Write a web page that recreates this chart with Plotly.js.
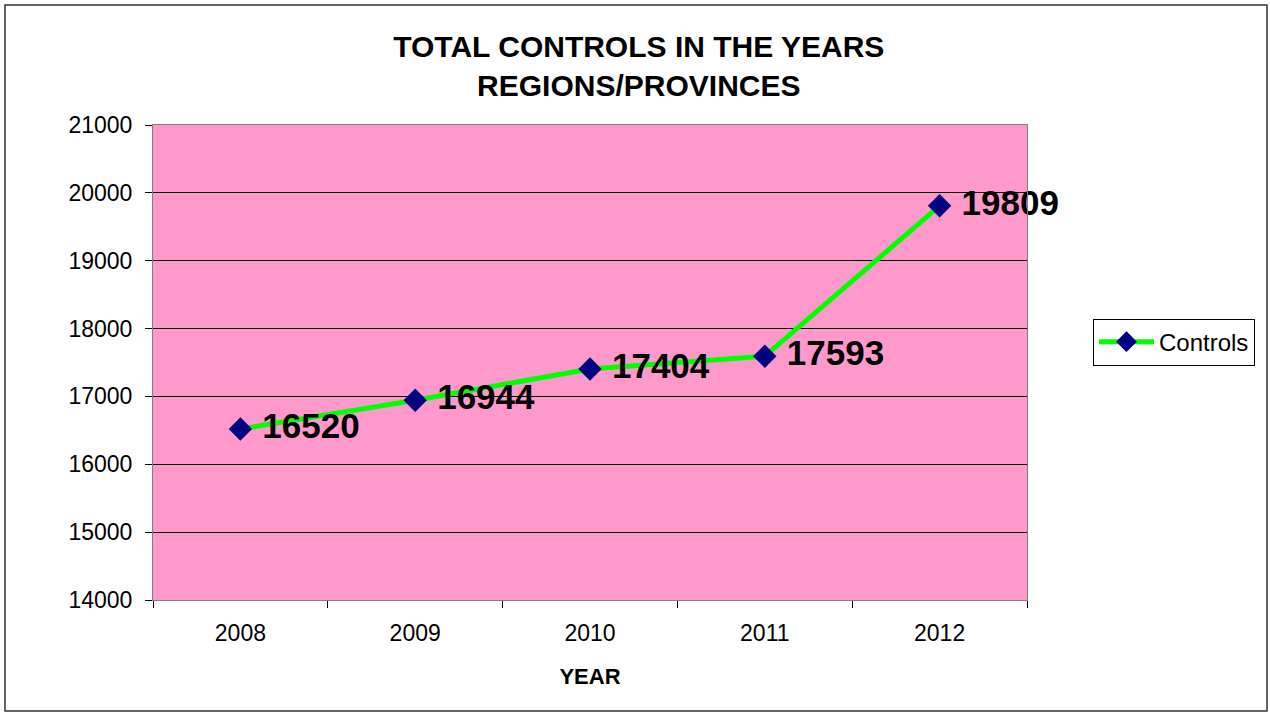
<!DOCTYPE html>
<html>
<head>
<meta charset="utf-8">
<script src="https://cdn.plot.ly/plotly-3.0.1.min.js"></script>
<style>
  html, body { margin: 0; padding: 0; background: #ffffff; }
  #chart { width: 1270px; height: 715px; }
</style>
</head>
<body>
<div id="chart"></div>
<script>
const years = ["2008", "2009", "2010", "2011", "2012"];
const controls = [16520, 16944, 17404, 17593, 19809];
const seriesName = "Controls";
const yTicks = [14000, 15000, 16000, 17000, 18000, 19000, 20000, 21000];

const trace = {
  x: years,
  y: controls,
  name: seriesName,
  type: "scatter",
  mode: "lines+markers+text",
  line: { color: "#00FF00", width: 5 },
  marker: { symbol: "diamond", color: "#000080", size: 18, line: { width: 0 } },
  text: controls.map(v => " " + v),
  textposition: "middle right",
  textfont: { family: "Liberation Sans, Arial, sans-serif", size: 35, color: "#000000", weight: "bold" },
  cliponaxis: false
};

const layout = {
  width: 1270,
  height: 715,
  paper_bgcolor: "#ffffff",
  plot_bgcolor: "#FF99CC",
  font: { family: "Liberation Sans, Arial, sans-serif", color: "#000000" },
  margin: { l: 153, r: 243, t: 125, b: 115 },
  title: {
    text: "<b>TOTAL CONTROLS IN THE YEARS<br>REGIONS/PROVINCES</b>",
    font: { size: 30, family: "Liberation Sans, Arial, sans-serif", color: "#000000" },
    x: 0.503, xref: "container", xanchor: "center",
    y: 1 - 57 / 715, yref: "container", yanchor: "middle"
  },
  xaxis: {
    type: "category",
    range: [-0.5, 4.5],
    tickson: "boundaries",
    ticks: "outside",
    ticklen: 7,
    tickcolor: "#000000",
    showgrid: false,
    showline: true,
    linecolor: "#808080",
    linewidth: 1,
    mirror: true,
    zeroline: false,
    tickfont: { size: 23 },
    ticklabelstandoff: 12,
    title: { text: "<b>YEAR</b>", font: { size: 22 }, standoff: 24 }
  },
  yaxis: {
    range: [14000, 21000],
    tickvals: yTicks,
    tickformat: "d",
    ticks: "outside",
    ticklen: 7,
    tickcolor: "#000000",
    showgrid: true,
    gridcolor: "#000000",
    gridwidth: 1,
    showline: true,
    linecolor: "#808080",
    mirror: true,
    zeroline: false,
    tickfont: { size: 23 },
    ticklabelstandoff: 8
  },
  showlegend: true,
  legend: {
    x: 1.0755, xanchor: "left",
    y: 0.543, yanchor: "middle",
    bgcolor: "#ffffff",
    bordercolor: "#000000",
    borderwidth: 1,
    itemwidth: 55,
    font: { size: 24 }
  },
  shapes: [{
    type: "rect", xref: "paper", yref: "paper",
    x0: (5 - 153) / 874, x1: (1267 - 153) / 874,
    y0: (600 - 711) / 475, y1: (600 - 5) / 475,
    line: { color: "#333333", width: 1.5 },
    fillcolor: "rgba(0,0,0,0)",
    layer: "below"
  }]
};

Plotly.newPlot("chart", [trace], layout, { displayModeBar: false, staticPlot: true });
</script>
</body>
</html>
